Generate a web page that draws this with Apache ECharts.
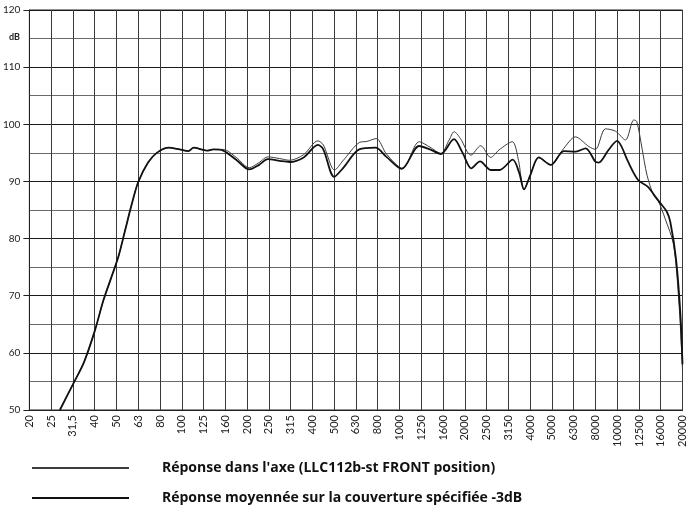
<!DOCTYPE html>
<html>
<head>
<meta charset="utf-8">
<script src="https://cdn.jsdelivr.net/npm/echarts@6/dist/echarts.min.js"></script>
<style>
html,body{margin:0;padding:0;background:#fff;}
#c{width:688px;height:513px;}
</style>
</head>
<body>
<div id="c"></div>
<script>
// x tick labels: 1/3-octave bands from 20 Hz (band index 0..30)
var tickLabels = ['20','25','31,5','40','50','63','80','100','125','160','200','250','315','400','500','630','800','1000','1250','1600','2000','2500','3150','4000','5000','6300','8000','10000','12500','16000','20000'];
var yTicks = [50,60,70,80,90,100,110,120];
var seriesNames = ["Réponse dans l'axe (LLC112b-st FRONT position)", "Réponse moyennée sur la couverture spécifiée -3dB"];

// [band index position, dB]
var onAxis = [[1.4,50],[2.0,54.5],[2.5,58.3],[3.0,63.8],[3.4,69.2],[3.8,73.6],[4.1,77.0],[4.4,81.5],[4.7,86.0],[5.0,89.9],[5.45,93.3],[5.85,95.0],[6.4,95.9],[6.9,95.6],[7.3,95.3],[7.55,95.9],[8.15,95.4],[8.45,95.6],
  [8.9,95.6],[9.5,94.2],[10.1,92.4],[10.55,93.3],[10.95,94.3],[11.5,94.0],[11.95,93.7],[12.6,94.7],[13.25,97.1],[13.5,96.4],[14.02,92.0],[14.4,93.6],[15.15,96.8],[15.5,97.0],[15.93,97.5],[16.4,94.8],[17.14,92.3],[17.91,96.95],[18.4,96.0],[18.9,94.9],[19.28,97.25],[19.51,98.7],[19.8,97.5],[20.28,94.6],[20.73,96.25],[21.19,94.2],[21.57,95.5],[22.18,96.95],[22.45,94.0],[22.72,88.6],[23.0,91.0],[23.4,94.2],[23.94,92.9],[24.55,95.8],[25.08,97.8],[25.7,96.1],[26.0,95.6],[26.46,99.2],[26.92,98.8],[27.38,97.25],[27.76,100.75],[27.9,100.5],[28.14,95.8],[28.37,91.1],[28.67,87.6],[28.9,86.45],[29.2,83.5],[29.59,78.9],[29.85,68.0],[30,57.0]];

var averaged = [[1.4,50],[2.0,54.5],[2.5,58.3],[3.0,63.8],[3.4,69.2],[3.8,73.6],[4.1,77.0],[4.4,81.5],[4.7,86.0],[5.0,89.9],[5.45,93.3],[5.85,95.0],[6.4,95.9],[6.9,95.6],[7.3,95.3],[7.55,95.9],[8.15,95.4],[8.45,95.6],
  [8.9,95.4],[9.5,93.8],[10.1,92.1],[10.55,92.9],[10.95,93.9],[11.5,93.6],[11.95,93.4],[12.6,94.2],[13.25,96.4],[13.5,95.6],[14.0,90.8],[14.4,92.3],[15.15,95.6],[15.9,95.9],[16.4,94.3],[17.1,92.2],[17.9,96.2],[18.4,95.6],[18.9,94.8],[19.5,97.4],[19.9,95.0],[20.3,92.3],[20.7,93.5],[21.2,92.0],[21.6,92.0],[22.2,93.8],[22.5,91.5],[22.72,88.6],[23.0,91.0],[23.4,94.2],[23.95,92.9],[24.55,95.3],[25.1,95.2],[25.55,95.8],[26.0,93.45],[26.15,93.3],[26.6,95.5],[27.0,97.1],[27.2,96.1],[27.5,93.45],[27.96,90.25],[28.4,89.1],[28.75,87.35],[28.98,86.2],[29.28,84.7],[29.44,82.9],[29.7,76.5],[29.9,67.0],[30,58.0]];

var chart = echarts.init(document.getElementById('c'), null, {renderer:'canvas'});
var font = 'Lato, "Open Sans", sans-serif';
chart.setOption({
  animation:false,
  backgroundColor:'#fff',
  textStyle:{fontFamily:font},
  grid:{left:29,right:4,top:10,bottom:103,show:true,borderColor:'#222',borderWidth:1},
  xAxis:{
    type:'value',min:0,max:tickLabels.length-1,interval:1,
    axisLine:{show:true,lineStyle:{color:'#222',width:1}},
    axisTick:{show:false},
    splitLine:{show:true,lineStyle:{color:'#3a3a3a',width:1}},
    axisLabel:{rotate:90,fontSize:11,color:'#222',margin:5,fontFamily:font,
      formatter:function(v){return tickLabels[Math.round(v)]||'';}}
  },
  yAxis:{
    type:'value',min:yTicks[0],max:yTicks[yTicks.length-1],interval:10,
    axisLine:{show:true,lineStyle:{color:'#222',width:1}},
    axisTick:{show:true,length:6,lineStyle:{color:'#222'}},
    splitLine:{show:true,lineStyle:{color:'#1a1a1a',width:1}},
    minorTick:{show:false,splitNumber:2},
    minorSplitLine:{show:true,lineStyle:{color:'#6a6a6a',width:1}},
    axisLabel:{fontSize:10,color:'#222',margin:9,fontFamily:font}
  },
  legend:{
    orient:'vertical',left:26,top:456,itemWidth:97,itemHeight:14,itemGap:16,
    data:seriesNames,
    itemStyle:{opacity:0},
    textStyle:{fontSize:14,fontWeight:'bold',color:'#111',fontFamily:'"Open Sans", Lato, sans-serif',padding:[0,0,0,28]}
  },
  graphic:[{type:'text',left:9,top:33,style:{text:'dB',font:'bold 9px '+font,fill:'#222'}}],
  series:[
    {name:seriesNames[0],type:'line',data:onAxis,symbol:'none',smooth:0.3,
      lineStyle:{color:'#3c3c3c',width:1},itemStyle:{color:'#3c3c3c'}},
    {name:seriesNames[1],type:'line',data:averaged,symbol:'none',smooth:0.3,
      lineStyle:{color:'#111',width:1.8},itemStyle:{color:'#111'}}
  ]
});
</script>
</body>
</html>
